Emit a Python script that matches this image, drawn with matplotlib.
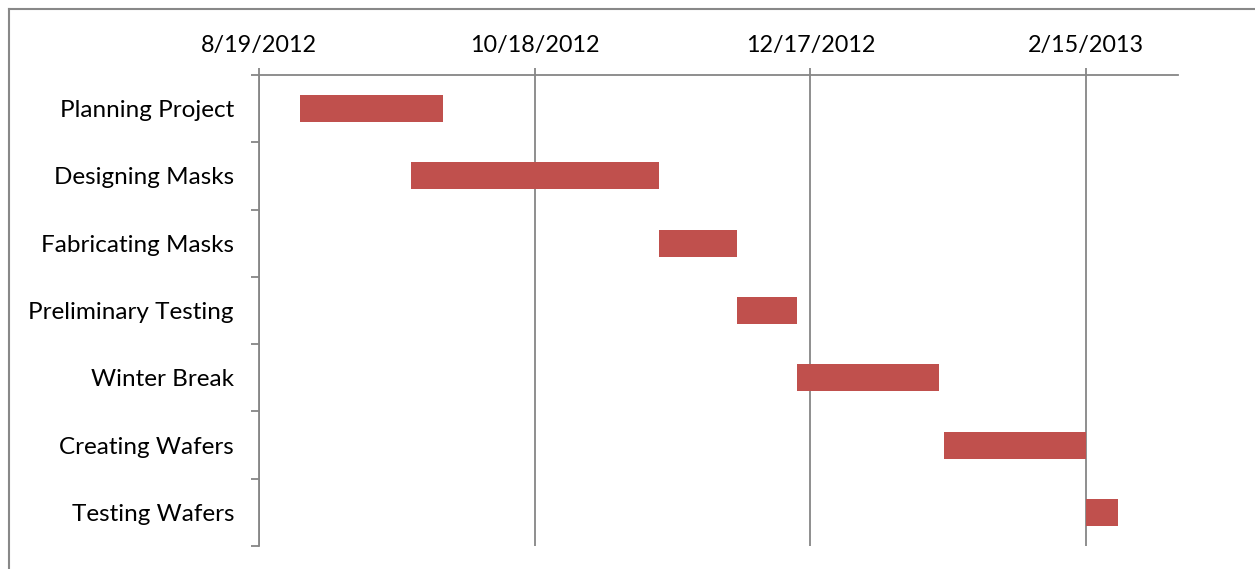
import matplotlib
matplotlib.use("Agg")
import matplotlib.pyplot as plt
import matplotlib.dates as mdates
from matplotlib.lines import Line2D
import datetime as dt
import numpy as np

tasks = ["Planning Project", "Designing Masks", "Fabricating Masks",
         "Preliminary Testing", "Winter Break", "Creating Wafers", "Testing Wafers"]
starts = ["2012-08-28", "2012-09-21", "2012-11-14", "2012-12-01",
          "2012-12-14", "2013-01-15", "2013-02-15"]
ends = ["2012-09-28", "2012-11-14", "2012-12-01", "2012-12-14",
        "2013-01-14", "2013-02-15", "2013-02-22"]
tick_dates = ["2012-08-19", "2012-10-18", "2012-12-17", "2013-02-15"]
tick_labels = ["8/19/2012", "10/18/2012", "12/17/2012", "2/15/2013"]
x_min, x_max = "2012-08-19", "2013-03-07"

def d(s):
    return mdates.date2num(dt.datetime.strptime(s, "%Y-%m-%d"))

plt.rcParams['font.family'] = ['Lato', 'DejaVu Sans']
W, H = 1255, 569
fig = plt.figure(figsize=(W/100, H/100), dpi=100)
ax = fig.add_axes([259/W, 1-546/H, (1178-259)/W, (546-75)/H])

gray = "#868686"
y = np.arange(len(tasks))
s = np.array([d(v) for v in starts])
e = np.array([d(v) for v in ends])
ax.barh(y, e - s, left=s, height=0.4, color="#C0504D", zorder=3)

ax.set_xlim(d(x_min), d(x_max))
ax.set_ylim(len(tasks) - 0.5, -0.5)
ax.xaxis.tick_top()
ax.set_xticks([d(v) for v in tick_dates])
ax.set_xticklabels(tick_labels, fontsize=16.8)
ax.set_yticks(y)
ax.set_yticklabels(tasks, fontsize=17.5)
ax.set_yticks(np.arange(-0.5, len(tasks) + 0.5, 1), minor=True)
ax.tick_params(axis='y', which='major', length=0, pad=18)
ax.tick_params(axis='y', which='minor', length=5.8, width=1.3, color=gray, direction='out')
ax.tick_params(axis='x', which='major', length=5, width=1.3, color=gray, pad=9, direction='out')
for sp in ['right', 'bottom']:
    ax.spines[sp].set_visible(False)
for sp in ['top', 'left']:
    ax.spines[sp].set_color(gray)
    ax.spines[sp].set_linewidth(1.3)
ax.grid(axis='x', color=gray, linewidth=1.3, zorder=0)
ax.set_axisbelow(True)

# outer chart border (top and left visible)
fig.add_artist(Line2D([9/W, 9/W], [0, 1-9/H], color="#888888", lw=1.5, transform=fig.transFigure))
fig.add_artist(Line2D([9/W, 1], [1-9/H, 1-9/H], color="#888888", lw=1.5, transform=fig.transFigure))

fig.savefig("out.png", dpi=100, facecolor="white")
